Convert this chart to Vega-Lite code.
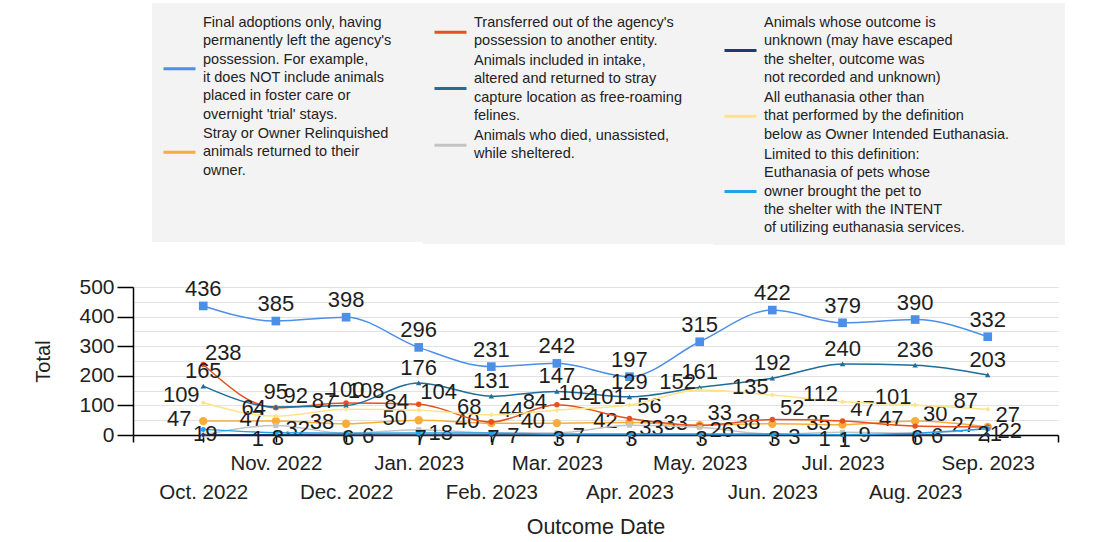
{
  "$schema": "https://vega.github.io/schema/vega-lite/v6.json",
  "width": 925,
  "height": 148,
  "autosize": {"type": "none"},
  "padding": {"left": 133, "top": 287, "right": 35, "bottom": 107},
  "background": "white",
  "config": {
    "font": "Liberation Sans",
    "view": {"stroke": null},
    "axis": {
      "domainColor": "#000000",
      "domainWidth": 1.5,
      "tickColor": "#000000",
      "tickWidth": 1.5,
      "labelColor": "#222222",
      "titleColor": "#222222",
      "titleFontWeight": "normal",
      "gridColor": "#e2e2e2",
      "gridWidth": 1
    },
    "text": {"fontSize": 22, "font": "Liberation Sans", "color": "#1e1e1e"},
    "legend": {
      "orient": "none",
      "direction": "vertical",
      "labelFont": "Liberation Sans",
      "labelFontSize": 14.5,
      "labelColor": "#222222",
      "labelLimit": 600,
      "rowPadding": 3,
      "padding": 10,
      "fillColor": "#f3f3f3",
      "symbolType": "stroke",
      "symbolSize": 1024,
      "symbolStrokeWidth": 3,
      "labelOffset": 6,
      "titleOrient": "right",
      "titleFontSize": 4,
      "titleBaseline": "top",
      "titleLimit": 600
    }
  },
  "data": {
    "values": [
      {"month": "2022-10-01", "Adoption": 436, "RTO": 47, "Transfer": 238, "TNR": 165, "Died": 0, "Unknown": 0, "Euth": 109, "OIE": 19},
      {"month": "2022-11-01", "Adoption": 385, "RTO": 47, "Transfer": 92, "TNR": 95, "Died": 32, "Unknown": 1, "Euth": 64, "OIE": 8},
      {"month": "2022-12-01", "Adoption": 398, "RTO": 38, "Transfer": 108, "TNR": 100, "Died": 6, "Unknown": 0, "Euth": 87, "OIE": 6},
      {"month": "2023-01-01", "Adoption": 296, "RTO": 50, "Transfer": 104, "TNR": 176, "Died": 18, "Unknown": 0, "Euth": 84, "OIE": 7},
      {"month": "2023-02-01", "Adoption": 231, "RTO": 40, "Transfer": 44, "TNR": 131, "Died": 7, "Unknown": 0, "Euth": 68, "OIE": 7},
      {"month": "2023-03-01", "Adoption": 242, "RTO": 40, "Transfer": 102, "TNR": 147, "Died": 7, "Unknown": 0, "Euth": 84, "OIE": 3},
      {"month": "2023-04-01", "Adoption": 197, "RTO": 42, "Transfer": 56, "TNR": 129, "Died": 33, "Unknown": 0, "Euth": 101, "OIE": 3},
      {"month": "2023-05-01", "Adoption": 315, "RTO": 33, "Transfer": 33, "TNR": 161, "Died": 26, "Unknown": 0, "Euth": 152, "OIE": 3},
      {"month": "2023-06-01", "Adoption": 422, "RTO": 38, "Transfer": 52, "TNR": 192, "Died": 3, "Unknown": 0, "Euth": 135, "OIE": 3},
      {"month": "2023-07-01", "Adoption": 379, "RTO": 35, "Transfer": 47, "TNR": 240, "Died": 9, "Unknown": 1, "Euth": 112, "OIE": 1},
      {"month": "2023-08-01", "Adoption": 390, "RTO": 47, "Transfer": 30, "TNR": 236, "Died": 6, "Unknown": 0, "Euth": 101, "OIE": 6},
      {"month": "2023-09-01", "Adoption": 332, "RTO": 27, "Transfer": 27, "TNR": 203, "Died": 22, "Unknown": 0, "Euth": 87, "OIE": 21}
    ]
  },
  "transform": [
    {"fold": ["Adoption", "RTO", "Transfer", "TNR", "Died", "Unknown", "Euth", "OIE"], "as": ["series", "total"]}
  ],
  "encoding": {
    "x": {
      "field": "month",
      "type": "temporal",
      "scale": {
        "type": "utc",
        "domain": [
          {"year": 2022, "month": "sep", "date": 1, "utc": true},
          {"year": 2023, "month": "oct", "date": 1, "utc": true}
        ]
      },
      "axis": {
        "title": "Outcome Date",
        "titleFontSize": 21.5,
        "titlePadding": 14,
        "grid": false,
        "values": [
          {"year": 2022, "month": "sep", "date": 1, "utc": true},
          {"year": 2022, "month": "oct", "date": 1, "utc": true},
          {"year": 2022, "month": "nov", "date": 1, "utc": true},
          {"year": 2022, "month": "dec", "date": 1, "utc": true},
          {"year": 2023, "month": "jan", "date": 1, "utc": true},
          {"year": 2023, "month": "feb", "date": 1, "utc": true},
          {"year": 2023, "month": "mar", "date": 1, "utc": true},
          {"year": 2023, "month": "apr", "date": 1, "utc": true},
          {"year": 2023, "month": "may", "date": 1, "utc": true},
          {"year": 2023, "month": "jun", "date": 1, "utc": true},
          {"year": 2023, "month": "jul", "date": 1, "utc": true},
          {"year": 2023, "month": "aug", "date": 1, "utc": true},
          {"year": 2023, "month": "sep", "date": 1, "utc": true},
          {"year": 2023, "month": "oct", "date": 1, "utc": true}
        ],
        "format": "%b. %Y",
        "labelExpr": "(utcyear(datum.value) == 2022 && utcmonth(datum.value) == 8) || (utcyear(datum.value) == 2023 && utcmonth(datum.value) == 9) ? '' : (utcmonth(datum.value) % 2 == 1 ? ['', datum.label] : datum.label)",
        "labelOverlap": false,
        "labelFlush": false,
        "labelBound": false,
        "labelFontSize": 20.5,
        "labelLineHeight": 29,
        "tickSize": 7,
        "labelPadding": 11
      }
    },
    "y": {
      "field": "total",
      "type": "quantitative",
      "scale": {"domain": [0, 500], "nice": false},
      "axis": {
        "title": "Total",
        "titleFontSize": 20,
        "titlePadding": 25,
        "values": [0, 50, 100, 150, 200, 250, 300, 350, 400, 450, 500],
        "labelExpr": "datum.value % 100 == 0 ? datum.label : ''",
        "tickOpacity": {"condition": {"test": "datum.value % 100 == 0", "value": 1}, "value": 0},
        "labelFontSize": 21,
        "tickSize": 16,
        "labelPadding": 3,
        "grid": true
      }
    }
  },
  "layer": [
    {
      "transform": [{"filter": {"field": "series", "oneOf": ["Adoption", "RTO"]}}],
      "encoding": {
        "color": {
          "field": "series",
          "type": "nominal",
          "scale": {"domain": ["Adoption", "RTO"], "range": ["#4c8fe8", "#f8ad3a"]},
          "legend": {
            "title": " ",
            "titlePadding": 25,
            "legendX": 19,
            "legendY": -284,
            "labelExpr": "datum.label == 'Adoption' ? ['Final adoptions only, having', \"permanently left the agency's\", 'possession. For example,', 'it does NOT include animals', 'placed in foster care or', \"overnight 'trial' stays.\"] : ['Stray or Owner Relinquished', 'animals returned to their', 'owner.', ' ', ' ', ' ']",
            "encode": {
              "symbols": {"update": {"shape": {"value": "stroke"}, "size": {"value": 1024}, "strokeWidth": {"value": 3}, "y": {"signal": "10 + (datum.value == 'Adoption' ? 45.75 : 18.3)"}, "stroke": {"signal": "datum.value == 'Adoption' ? '#4c8fe8' : '#f8ad3a'"}}},
              "labels": {"update": {"lineHeight": {"value": 18.3}, "y": {"value": 10}}}
            }
          }
        }
      },
      "layer": [
        {"mark": {"type": "line", "interpolate": "monotone", "strokeWidth": 1.5}},
        {
          "transform": [{"filter": "datum.series == 'Adoption'"}],
          "layer": [
            {"mark": {"type": "point", "filled": true, "opacity": 1, "strokeWidth": 0, "size": 75, "shape": "square"}},
            {"mark": {"type": "text", "dy": -17}, "encoding": {"text": {"field": "total", "type": "quantitative"}, "color": {"value": "#1e1e1e"}}}
          ]
        },
        {
          "transform": [{"filter": "datum.series == 'RTO'"}],
          "layer": [
            {"mark": {"type": "point", "filled": true, "opacity": 1, "strokeWidth": 0, "size": 70, "shape": "circle"}},
            {"mark": {"type": "text", "dx": -24, "dy": -2}, "encoding": {"text": {"field": "total", "type": "quantitative"}, "color": {"value": "#1e1e1e"}}}
          ]
        }
      ]
    },
    {
      "transform": [{"filter": {"field": "series", "oneOf": ["Transfer", "TNR", "Died"]}}],
      "encoding": {
        "color": {
          "field": "series",
          "type": "nominal",
          "scale": {"domain": ["Transfer", "TNR", "Died"], "range": ["#e8501f", "#1f6d98", "#c4c4c4"]},
          "legend": {
            "title": " ",
            "titlePadding": 23,
            "legendX": 290,
            "legendY": -284,
            "labelExpr": "datum.label == 'Transfer' ? [\"Transferred out of the agency's\", 'possession to another entity.'] : datum.label == 'TNR' ? ['Animals included in intake,', 'altered and returned to stray', 'capture location as free-roaming', 'felines.'] : ['Animals who died, unassisted,', 'while sheltered.', ' ', ' ', ' ', ' ']",
            "encode": {
              "symbols": {"update": {"shape": {"value": "stroke"}, "size": {"value": 1024}, "strokeWidth": {"value": 3}, "y": {"signal": "10 + (datum.value == 'TNR' ? 27.45 : 9.15)"}, "stroke": {"signal": "datum.value == 'Transfer' ? '#e8501f' : datum.value == 'TNR' ? '#1f6d98' : '#c4c4c4'"}}},
              "labels": {"update": {"lineHeight": {"value": 18.3}, "y": {"value": 10}}}
            }
          }
        }
      },
      "layer": [
        {"mark": {"type": "line", "interpolate": "monotone", "strokeWidth": 1.5}},
        {
          "transform": [{"filter": "datum.series == 'Transfer'"}],
          "layer": [
            {"mark": {"type": "point", "filled": true, "opacity": 1, "strokeWidth": 0, "size": 30, "shape": "circle"}},
            {"mark": {"type": "text", "dx": 20, "dy": -12}, "encoding": {"text": {"field": "total", "type": "quantitative"}, "color": {"value": "#1e1e1e"}}}
          ]
        },
        {
          "transform": [{"filter": "datum.series == 'TNR'"}],
          "layer": [
            {"mark": {"type": "point", "filled": true, "opacity": 1, "strokeWidth": 0, "size": 30, "shape": "triangle-up"}},
            {"mark": {"type": "text", "dy": -15}, "encoding": {"text": {"field": "total", "type": "quantitative"}, "color": {"value": "#1e1e1e"}}}
          ]
        },
        {
          "transform": [{"filter": "datum.series == 'Died'"}],
          "layer": [
            {"mark": {"type": "point", "filled": true, "opacity": 1, "strokeWidth": 0, "size": 25, "shape": "square"}},
            {"transform": [{"filter": "datum.total > 0"}], "mark": {"type": "text", "dx": 22, "dy": 3}, "encoding": {"text": {"field": "total", "type": "quantitative"}, "color": {"value": "#1e1e1e"}}}
          ]
        }
      ]
    },
    {
      "transform": [{"filter": {"field": "series", "oneOf": ["Unknown", "Euth", "OIE"]}}],
      "encoding": {
        "color": {
          "field": "series",
          "type": "nominal",
          "scale": {"domain": ["Unknown", "Euth", "OIE"], "range": ["#1e3a6e", "#ffe38a", "#21a1e8"]},
          "legend": {
            "title": " ",
            "titlePadding": 46,
            "legendX": 580,
            "legendY": -284,
            "labelExpr": "datum.label == 'Unknown' ? ['Animals whose outcome is', 'unknown (may have escaped', 'the shelter, outcome was', 'not recorded and unknown)'] : datum.label == 'Euth' ? ['All euthanasia other than', 'that performed by the definition', 'below as Owner Intended Euthanasia.'] : ['Limited to this definition:', 'Euthanasia of pets whose', 'owner brought the pet to', 'the shelter with the INTENT', 'of utilizing euthanasia services.']",
            "encode": {
              "symbols": {"update": {"shape": {"value": "stroke"}, "size": {"value": 1024}, "strokeWidth": {"value": 3}, "y": {"signal": "10 + (datum.value == 'Unknown' ? 27.45 : datum.value == 'Euth' ? 18.3 : 36.6)"}, "stroke": {"signal": "datum.value == 'Unknown' ? '#1e3a6e' : datum.value == 'Euth' ? '#ffe38a' : '#21a1e8'"}}},
              "labels": {"update": {"lineHeight": {"value": 18.3}, "y": {"value": 10}}}
            }
          }
        }
      },
      "layer": [
        {"mark": {"type": "line", "interpolate": "monotone", "strokeWidth": 1.5}},
        {
          "transform": [{"filter": "datum.series == 'Unknown'"}],
          "layer": [
            {"mark": {"type": "point", "filled": true, "opacity": 1, "strokeWidth": 0, "size": 25, "shape": "diamond"}},
            {"transform": [{"filter": "datum.total > 0"}], "mark": {"type": "text", "dx": -18, "dy": 4}, "encoding": {"text": {"field": "total", "type": "quantitative"}, "color": {"value": "#1e1e1e"}}}
          ]
        },
        {
          "transform": [{"filter": "datum.series == 'Euth'"}],
          "layer": [
            {"mark": {"type": "point", "filled": true, "opacity": 1, "strokeWidth": 0, "size": 25, "shape": "diamond"}},
            {"mark": {"type": "text", "dx": -22, "dy": -8}, "encoding": {"text": {"field": "total", "type": "quantitative"}, "color": {"value": "#1e1e1e"}}}
          ]
        },
        {
          "transform": [{"filter": "datum.series == 'OIE'"}],
          "layer": [
            {"mark": {"type": "point", "filled": true, "opacity": 1, "strokeWidth": 0, "size": 25, "shape": "circle"}},
            {"mark": {"type": "text", "dx": 2, "dy": 5}, "encoding": {"text": {"field": "total", "type": "quantitative"}, "color": {"value": "#1e1e1e"}}}
          ]
        }
      ]
    }
  ],
  "resolve": {"scale": {"color": "independent"}, "legend": {"color": "independent"}}
}
